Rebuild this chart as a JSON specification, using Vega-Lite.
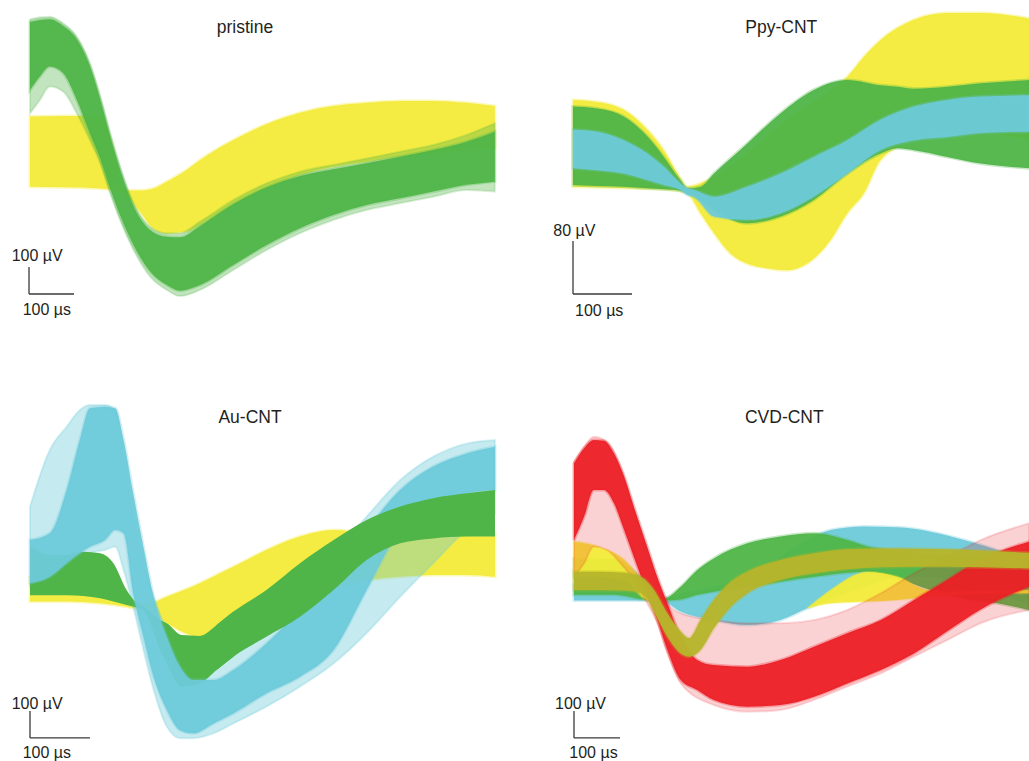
{
"$schema":"https://vega.github.io/schema/vega-lite/v6.json",
"padding":0,"spacing":0,"bounds":"flush","columns":2,
"config":{"view":{"stroke":null},"text":{"font":"Liberation Sans","color":"#231f20"}},
"datasets":{
"A":[
{"c":"y","t":0,"hi":272,"lo":12},{"c":"y","t":81,"hi":274,"lo":10},{"c":"y","t":156,"hi":274,"lo":6},{"c":"y","t":185,"hi":148,"lo":0},{"c":"y","t":207,"hi":0,"lo":-10},{"c":"y","t":244,"hi":-2,"lo":-80},{"c":"y","t":274,"hi":6,"lo":-142},{"c":"y","t":304,"hi":31,"lo":-160},{"c":"y","t":348,"hi":74,"lo":-154},{"c":"y","t":378,"hi":111,"lo":-130},{"c":"y","t":452,"hi":185,"lo":-56},{"c":"y","t":526,"hi":244,"lo":6},{"c":"y","t":600,"hi":286,"lo":56},{"c":"y","t":674,"hi":311,"lo":86},{"c":"y","t":748,"hi":323,"lo":105},{"c":"y","t":822,"hi":330,"lo":123},{"c":"y","t":896,"hi":330,"lo":136},{"c":"y","t":970,"hi":323,"lo":148},{"c":"y","t":1033,"hi":311,"lo":154},
{"c":"go","t":0,"hi":632,"lo":284},{"c":"go","t":22,"hi":640,"lo":333},{"c":"go","t":44,"hi":642,"lo":383},{"c":"go","t":74,"hi":617,"lo":364},{"c":"go","t":104,"hi":568,"lo":284},{"c":"go","t":133,"hi":469,"lo":185},{"c":"go","t":156,"hi":346,"lo":99},{"c":"go","t":178,"hi":210,"lo":-12},{"c":"go","t":200,"hi":86,"lo":-111},{"c":"go","t":230,"hi":-49,"lo":-222},{"c":"go","t":267,"hi":-136,"lo":-321},{"c":"go","t":304,"hi":-160,"lo":-370},{"c":"go","t":333,"hi":-160,"lo":-393},{"c":"go","t":378,"hi":-117,"lo":-370},{"c":"go","t":452,"hi":-37,"lo":-296},{"c":"go","t":526,"hi":25,"lo":-222},{"c":"go","t":600,"hi":68,"lo":-160},{"c":"go","t":674,"hi":93,"lo":-111},{"c":"go","t":748,"hi":117,"lo":-74},{"c":"go","t":822,"hi":142,"lo":-49},{"c":"go","t":896,"hi":167,"lo":-25},{"c":"go","t":970,"hi":204,"lo":0},{"c":"go","t":1033,"hi":247,"lo":-6},
{"c":"gc","t":0,"hi":622,"lo":370},{"c":"gc","t":22,"hi":630,"lo":420},{"c":"gc","t":44,"hi":632,"lo":457},{"c":"gc","t":74,"hi":607,"lo":432},{"c":"gc","t":104,"hi":558,"lo":333},{"c":"gc","t":133,"hi":459,"lo":210},{"c":"gc","t":156,"hi":336,"lo":117},{"c":"gc","t":178,"hi":200,"lo":6},{"c":"gc","t":200,"hi":77,"lo":-93},{"c":"gc","t":230,"hi":-59,"lo":-204},{"c":"gc","t":267,"hi":-148,"lo":-302},{"c":"gc","t":304,"hi":-173,"lo":-352},{"c":"gc","t":333,"hi":-175,"lo":-373},{"c":"gc","t":378,"hi":-133,"lo":-352},{"c":"gc","t":452,"hi":-52,"lo":-278},{"c":"gc","t":526,"hi":10,"lo":-204},{"c":"gc","t":600,"hi":52,"lo":-142},{"c":"gc","t":674,"hi":77,"lo":-93},{"c":"gc","t":748,"hi":99,"lo":-56},{"c":"gc","t":822,"hi":123,"lo":-31},{"c":"gc","t":896,"hi":148,"lo":-6},{"c":"gc","t":970,"hi":179,"lo":19},{"c":"gc","t":1033,"hi":216,"lo":31}
],
"B":[
{"c":"y","t":0,"hi":136,"lo":5},{"c":"y","t":41,"hi":133,"lo":4},{"c":"y","t":86,"hi":121,"lo":3},{"c":"y","t":126,"hi":91,"lo":2},{"c":"y","t":154,"hi":60,"lo":1},{"c":"y","t":177,"hi":25,"lo":-1},{"c":"y","t":194,"hi":5,"lo":-5},{"c":"y","t":216,"hi":10,"lo":-35},{"c":"y","t":239,"hi":20,"lo":-65},{"c":"y","t":267,"hi":38,"lo":-96},{"c":"y","t":295,"hi":55,"lo":-111},{"c":"y","t":329,"hi":81,"lo":-118},{"c":"y","t":363,"hi":106,"lo":-121},{"c":"y","t":397,"hi":126,"lo":-111},{"c":"y","t":437,"hi":151,"lo":-75},{"c":"y","t":465,"hi":171,"lo":-35},{"c":"y","t":493,"hi":201,"lo":-5},{"c":"y","t":521,"hi":226,"lo":45},{"c":"y","t":578,"hi":257,"lo":75},{"c":"y","t":634,"hi":267,"lo":86},{"c":"y","t":691,"hi":267,"lo":86},{"c":"y","t":773,"hi":259,"lo":75},
{"c":"g","t":0,"hi":126,"lo":7.5},{"c":"g","t":41,"hi":123,"lo":6},{"c":"g","t":86,"hi":111,"lo":5},{"c":"g","t":126,"hi":81,"lo":2.5},{"c":"g","t":154,"hi":50,"lo":1},{"c":"g","t":182,"hi":15,"lo":-1},{"c":"g","t":194,"hi":2.5,"lo":-5},{"c":"g","t":216,"hi":5,"lo":-15},{"c":"g","t":239,"hi":25,"lo":-30},{"c":"g","t":295,"hi":70,"lo":-50},{"c":"g","t":352,"hi":116,"lo":-40},{"c":"g","t":408,"hi":151,"lo":-15},{"c":"g","t":465,"hi":166,"lo":25},{"c":"g","t":521,"hi":158,"lo":55},{"c":"g","t":550,"hi":156,"lo":63},{"c":"g","t":578,"hi":153,"lo":60},{"c":"g","t":634,"hi":156,"lo":50},{"c":"g","t":691,"hi":161,"lo":40},{"c":"g","t":773,"hi":166,"lo":33},
{"c":"cy","t":0,"hi":91,"lo":33},{"c":"cy","t":41,"hi":88,"lo":30},{"c":"cy","t":86,"hi":75,"lo":25},{"c":"cy","t":126,"hi":55,"lo":15},{"c":"cy","t":154,"hi":35,"lo":7.5},{"c":"cy","t":182,"hi":10,"lo":0},{"c":"cy","t":194,"hi":2.5,"lo":-7.5},{"c":"cy","t":205,"hi":0,"lo":-10},{"c":"cy","t":239,"hi":-10,"lo":-40},{"c":"cy","t":295,"hi":5,"lo":-45},{"c":"cy","t":352,"hi":25,"lo":-35},{"c":"cy","t":408,"hi":50,"lo":-10},{"c":"cy","t":465,"hi":75,"lo":25},{"c":"cy","t":521,"hi":106,"lo":60},{"c":"cy","t":578,"hi":126,"lo":75},{"c":"cy","t":634,"hi":136,"lo":80},{"c":"cy","t":691,"hi":141,"lo":86},{"c":"cy","t":773,"hi":143,"lo":88}
],
"C":[
{"c":"y","t":0,"hi":49,"lo":-43},{"c":"y","t":61,"hi":74,"lo":-43},{"c":"y","t":117,"hi":49,"lo":-49},{"c":"y","t":161,"hi":-25,"lo":-62},{"c":"y","t":178,"hi":-49,"lo":-68},{"c":"y","t":189,"hi":-56,"lo":-68},{"c":"y","t":228,"hi":-25,"lo":-123},{"c":"y","t":283,"hi":25,"lo":-173},{"c":"y","t":311,"hi":56,"lo":-130},{"c":"y","t":339,"hi":86,"lo":-80},{"c":"y","t":394,"hi":148,"lo":-25},{"c":"y","t":450,"hi":198,"lo":0},{"c":"y","t":506,"hi":222,"lo":12},{"c":"y","t":561,"hi":210,"lo":37},{"c":"y","t":617,"hi":198,"lo":49},{"c":"y","t":672,"hi":198,"lo":56},{"c":"y","t":728,"hi":210,"lo":56},{"c":"y","t":775,"hi":210,"lo":49},
{"c":"g","t":0,"hi":160,"lo":-19},{"c":"g","t":33,"hi":130,"lo":-19},{"c":"g","t":61,"hi":130,"lo":-19},{"c":"g","t":89,"hi":142,"lo":-22},{"c":"g","t":117,"hi":136,"lo":-31},{"c":"g","t":139,"hi":99,"lo":-43},{"c":"g","t":161,"hi":0,"lo":-56},{"c":"g","t":178,"hi":-49,"lo":-65},{"c":"g","t":189,"hi":-62,"lo":-74},{"c":"g","t":217,"hi":-111,"lo":-222},{"c":"g","t":228,"hi":-123,"lo":-272},{"c":"g","t":253,"hi":-167,"lo":-358},{"c":"g","t":283,"hi":-170,"lo":-346},{"c":"g","t":311,"hi":-130,"lo":-296},{"c":"g","t":339,"hi":-80,"lo":-247},{"c":"g","t":394,"hi":0,"lo":-173},{"c":"g","t":450,"hi":99,"lo":-99},{"c":"g","t":506,"hi":185,"lo":0},{"c":"g","t":561,"hi":259,"lo":111},{"c":"g","t":617,"hi":309,"lo":173},{"c":"g","t":672,"hi":340,"lo":191},{"c":"g","t":728,"hi":358,"lo":198},{"c":"g","t":775,"hi":370,"lo":198},
{"c":"co","t":0,"hi":309,"lo":12},{"c":"co","t":33,"hi":519,"lo":31},{"c":"co","t":61,"hi":605,"lo":49},{"c":"co","t":83,"hi":667,"lo":99},{"c":"co","t":100,"hi":685,"lo":136},{"c":"co","t":125,"hi":685,"lo":148},{"c":"co","t":142,"hi":667,"lo":160},{"c":"co","t":156,"hi":494,"lo":74},{"c":"co","t":172,"hi":272,"lo":-62},{"c":"co","t":189,"hi":99,"lo":-222},{"c":"co","t":206,"hi":-25,"lo":-370},{"c":"co","t":228,"hi":-148,"lo":-506},{"c":"co","t":250,"hi":-222,"lo":-549},{"c":"co","t":272,"hi":-247,"lo":-549},{"c":"co","t":306,"hi":-235,"lo":-531},{"c":"co","t":339,"hi":-198,"lo":-494},{"c":"co","t":394,"hi":-99,"lo":-432},{"c":"co","t":450,"hi":12,"lo":-358},{"c":"co","t":506,"hi":136,"lo":-272},{"c":"co","t":561,"hi":272,"lo":-160},{"c":"co","t":617,"hi":407,"lo":-25},{"c":"co","t":672,"hi":494,"lo":99},{"c":"co","t":728,"hi":543,"lo":222},{"c":"co","t":775,"hi":556,"lo":284},
{"c":"cc","t":0,"hi":185,"lo":25},{"c":"cc","t":33,"hi":210,"lo":49},{"c":"cc","t":61,"hi":370,"lo":99},{"c":"cc","t":83,"hi":556,"lo":136},{"c":"cc","t":100,"hi":673,"lo":160},{"c":"cc","t":125,"hi":679,"lo":185},{"c":"cc","t":142,"hi":673,"lo":222},{"c":"cc","t":156,"hi":556,"lo":210},{"c":"cc","t":172,"hi":358,"lo":-12},{"c":"cc","t":189,"hi":160,"lo":-173},{"c":"cc","t":206,"hi":-25,"lo":-321},{"c":"cc","t":228,"hi":-173,"lo":-444},{"c":"cc","t":250,"hi":-284,"lo":-519},{"c":"cc","t":272,"hi":-333,"lo":-531},{"c":"cc","t":306,"hi":-333,"lo":-494},{"c":"cc","t":339,"hi":-296,"lo":-457},{"c":"cc","t":394,"hi":-198,"lo":-383},{"c":"cc","t":450,"hi":-74,"lo":-321},{"c":"cc","t":506,"hi":49,"lo":-222},{"c":"cc","t":561,"hi":222,"lo":0},{"c":"cc","t":617,"hi":370,"lo":222},{"c":"cc","t":672,"hi":457,"lo":309},{"c":"cc","t":728,"hi":506,"lo":358},{"c":"cc","t":775,"hi":531,"lo":370}
],
"D":[
{"c":"cy","t":0,"hi":56,"lo":-2},{"c":"cy","t":87,"hi":52,"lo":-2},{"c":"cy","t":159,"hi":37,"lo":-2},{"c":"cy","t":196,"hi":6,"lo":-7},{"c":"cy","t":232,"hi":25,"lo":-43},{"c":"cy","t":304,"hi":49,"lo":-74},{"c":"cy","t":377,"hi":86,"lo":-93},{"c":"cy","t":449,"hi":160,"lo":-74},{"c":"cy","t":507,"hi":222,"lo":-31},{"c":"cy","t":558,"hi":259,"lo":6},{"c":"cy","t":630,"hi":272,"lo":49},{"c":"cy","t":703,"hi":269,"lo":86},{"c":"cy","t":775,"hi":253,"lo":86},{"c":"cy","t":848,"hi":222,"lo":62},{"c":"cy","t":920,"hi":185,"lo":25},{"c":"cy","t":989,"hi":136,"lo":-12},
{"c":"g","t":0,"hi":154,"lo":19},{"c":"g","t":87,"hi":151,"lo":19},{"c":"g","t":159,"hi":62,"lo":0},{"c":"g","t":196,"hi":6,"lo":-2},{"c":"g","t":232,"hi":49,"lo":2},{"c":"g","t":268,"hi":111,"lo":19},{"c":"g","t":304,"hi":154,"lo":31},{"c":"g","t":377,"hi":210,"lo":49},{"c":"g","t":449,"hi":235,"lo":68},{"c":"g","t":522,"hi":247,"lo":86},{"c":"g","t":594,"hi":222,"lo":101},{"c":"g","t":638,"hi":198,"lo":105},{"c":"g","t":703,"hi":179,"lo":80},{"c":"g","t":775,"hi":167,"lo":37},{"c":"g","t":848,"hi":160,"lo":6},{"c":"g","t":920,"hi":154,"lo":-12},{"c":"g","t":989,"hi":148,"lo":-37},
{"c":"y","t":0,"hi":216,"lo":86},{"c":"y","t":51,"hi":198,"lo":86},{"c":"y","t":109,"hi":148,"lo":74},{"c":"y","t":159,"hi":49,"lo":0},{"c":"y","t":196,"hi":2,"lo":-12},
{"c":"yt","t":507,"hi":-31,"lo":-31},{"c":"yt","t":558,"hi":37,"lo":-12},{"c":"yt","t":638,"hi":104,"lo":-6},{"c":"yt","t":703,"hi":86,"lo":0},{"c":"yt","t":768,"hi":37,"lo":12},{"c":"yt","t":812,"hi":31,"lo":19},{"c":"yt","t":989,"hi":37,"lo":25},
{"c":"ro","t":0,"hi":512,"lo":86},{"c":"ro","t":22,"hi":568,"lo":136},{"c":"ro","t":43,"hi":605,"lo":198},{"c":"ro","t":72,"hi":586,"lo":185},{"c":"ro","t":101,"hi":494,"lo":136},{"c":"ro","t":130,"hi":333,"lo":74},{"c":"ro","t":159,"hi":173,"lo":-12},{"c":"ro","t":181,"hi":62,"lo":-86},{"c":"ro","t":203,"hi":-12,"lo":-198},{"c":"ro","t":232,"hi":-49,"lo":-309},{"c":"ro","t":304,"hi":-74,"lo":-389},{"c":"ro","t":377,"hi":-86,"lo":-414},{"c":"ro","t":449,"hi":-86,"lo":-407},{"c":"ro","t":522,"hi":-74,"lo":-370},{"c":"ro","t":594,"hi":-37,"lo":-321},{"c":"ro","t":667,"hi":25,"lo":-272},{"c":"ro","t":739,"hi":99,"lo":-210},{"c":"ro","t":812,"hi":160,"lo":-148},{"c":"ro","t":884,"hi":222,"lo":-86},{"c":"ro","t":989,"hi":284,"lo":-37},
{"c":"rc","t":0,"hi":506,"lo":222},{"c":"rc","t":22,"hi":562,"lo":309},{"c":"rc","t":43,"hi":593,"lo":407},{"c":"rc","t":65,"hi":590,"lo":407},{"c":"rc","t":87,"hi":543,"lo":358},{"c":"rc","t":109,"hi":457,"lo":259},{"c":"rc","t":130,"hi":346,"lo":160},{"c":"rc","t":159,"hi":198,"lo":25},{"c":"rc","t":181,"hi":86,"lo":-74},{"c":"rc","t":203,"hi":-12,"lo":-185},{"c":"rc","t":232,"hi":-136,"lo":-296},{"c":"rc","t":268,"hi":-222,"lo":-333},{"c":"rc","t":304,"hi":-241,"lo":-370},{"c":"rc","t":377,"hi":-247,"lo":-395},{"c":"rc","t":449,"hi":-222,"lo":-389},{"c":"rc","t":522,"hi":-173,"lo":-358},{"c":"rc","t":594,"hi":-123,"lo":-309},{"c":"rc","t":667,"hi":-74,"lo":-259},{"c":"rc","t":739,"hi":0,"lo":-198},{"c":"rc","t":812,"hi":75,"lo":-115},{"c":"rc","t":884,"hi":150,"lo":-35},{"c":"rc","t":989,"hi":216,"lo":49},
{"c":"o","t":0,"hi":105,"lo":37},{"c":"o","t":51,"hi":105,"lo":37},{"c":"o","t":109,"hi":101,"lo":35},{"c":"o","t":145,"hi":86,"lo":25},{"c":"o","t":159,"hi":68,"lo":6},{"c":"o","t":174,"hi":37,"lo":-43},{"c":"o","t":203,"hi":-49,"lo":-136},{"c":"o","t":232,"hi":-117,"lo":-198},{"c":"o","t":250,"hi":-142,"lo":-210},{"c":"o","t":275,"hi":-74,"lo":-185},{"c":"o","t":304,"hi":0,"lo":-105},{"c":"o","t":341,"hi":68,"lo":-25},{"c":"o","t":377,"hi":105,"lo":25},{"c":"o","t":449,"hi":148,"lo":74},{"c":"o","t":522,"hi":173,"lo":99},{"c":"o","t":594,"hi":188,"lo":114},{"c":"o","t":667,"hi":191,"lo":121},{"c":"o","t":739,"hi":190,"lo":123},{"c":"o","t":812,"hi":188,"lo":123},{"c":"o","t":884,"hi":183,"lo":121},{"c":"o","t":989,"hi":175,"lo":117}
]
},
"concat":[
{"width":514,"height":380,
"encoding":{"x":{"field":"t","type":"quantitative","scale":{"domain":[-66.67,1075.56],"nice":false,"zero":false},"axis":null},
"y":{"field":"hi","type":"quantitative","scale":{"domain":[-703.7,703.7],"nice":false,"zero":false},"axis":null}},
"layer":[
{"data":{"name":"A"},"transform":[{"filter":"datum.c=='y'"}],"mark":{"type":"area","interpolate":"monotone","fill":"#F3EB38","fillOpacity":0.95,"stroke":"#F3EB38","strokeWidth":3,"strokeOpacity":0.35,"clip":true},"encoding":{"y2":{"field":"lo"}}},
{"data":{"name":"A"},"transform":[{"filter":"datum.c=='go'"}],"mark":{"type":"area","interpolate":"monotone","fill":"#4FB548","fillOpacity":0.35,"stroke":"#4FB548","strokeWidth":2,"strokeOpacity":0.2,"clip":true},"encoding":{"y2":{"field":"lo"}}},
{"data":{"name":"A"},"transform":[{"filter":"datum.c=='gc'"}],"mark":{"type":"area","interpolate":"monotone","fill":"#4FB548","fillOpacity":0.95,"stroke":"#4FB548","strokeWidth":3,"strokeOpacity":0.3,"clip":true},"encoding":{"y2":{"field":"lo"}}},
{"data":{"values":[{"t":-2.2,"t2":-2.2,"hi":-285.2,"lo":-385.2},{"t":-2.2,"t2":97.8,"hi":-385.2,"lo":-385.2}]},"mark":{"type":"rule","color":"#3a3a3a","strokeWidth":1.3},"encoding":{"x2":{"field":"t2"},"y2":{"field":"lo"}}},
{"data":{"values":[{"t":-40.7,"hi":-263,"label":"100 µV"},{"t":-16.2,"hi":-463,"label":"100 µs"}]},"mark":{"type":"text","align":"left","baseline":"alphabetic","fontSize":16},"encoding":{"text":{"field":"label"}}},
{"data":{"values":[{"t":477.8,"hi":581.5,"label":"pristine"}]},"mark":{"type":"text","align":"center","baseline":"alphabetic","fontSize":17.5},"encoding":{"text":{"field":"label"}}}
]},
{"width":515,"height":380,
"encoding":{"x":{"field":"t","type":"quantitative","scale":{"domain":[-100,772.88],"nice":false,"zero":false},"axis":null},
"y":{"field":"hi","type":"quantitative","scale":{"domain":[-286.79,286.79],"nice":false,"zero":false},"axis":null}},
"layer":[
{"data":{"name":"B"},"transform":[{"filter":"datum.c=='y'"}],"mark":{"type":"area","interpolate":"monotone","fill":"#F3EB38","fillOpacity":0.95,"stroke":"#F3EB38","strokeWidth":3,"strokeOpacity":0.35,"clip":true},"encoding":{"y2":{"field":"lo"}}},
{"data":{"name":"B"},"transform":[{"filter":"datum.c=='g'"}],"mark":{"type":"area","interpolate":"monotone","fill":"#4FB548","fillOpacity":0.95,"stroke":"#4FB548","strokeWidth":3,"strokeOpacity":0.3,"clip":true},"encoding":{"y2":{"field":"lo"}}},
{"data":{"name":"B"},"transform":[{"filter":"datum.c=='cy'"}],"mark":{"type":"area","interpolate":"monotone","fill":"#6DCAD9","fillOpacity":0.95,"stroke":"#6DCAD9","strokeWidth":3,"strokeOpacity":0.3,"clip":true},"encoding":{"y2":{"field":"lo"}}},
{"data":{"values":[{"t":0,"t2":0,"hi":-77,"lo":-157},{"t":0,"t2":100,"hi":-157,"lo":-157}]},"mark":{"type":"rule","color":"#3a3a3a","strokeWidth":1.3},"encoding":{"x2":{"field":"t2"},"y2":{"field":"lo"}}},
{"data":{"values":[{"t":-33.4,"hi":-69.4,"label":"80 µV"},{"t":3.4,"hi":-189.7,"label":"100 µs"}]},"mark":{"type":"text","align":"left","baseline":"alphabetic","fontSize":16},"encoding":{"text":{"field":"label"}}},
{"data":{"values":[{"t":353,"hi":236.5,"label":"Ppy-CNT"}]},"mark":{"type":"text","align":"center","baseline":"alphabetic","fontSize":17.5},"encoding":{"text":{"field":"label"}}}
]},
{"width":514,"height":381,
"encoding":{"x":{"field":"t","type":"quantitative","scale":{"domain":[-50,806.67],"nice":false,"zero":false},"axis":null},
"y":{"field":"hi","type":"quantitative","scale":{"domain":[-633.33,777.78],"nice":false,"zero":false},"axis":null}},
"layer":[
{"data":{"name":"C"},"transform":[{"filter":"datum.c=='y'"}],"mark":{"type":"area","interpolate":"monotone","fill":"#F3EB38","fillOpacity":0.95,"stroke":"#F3EB38","strokeWidth":3,"strokeOpacity":0.35,"clip":true},"encoding":{"y2":{"field":"lo"}}},
{"data":{"name":"C"},"transform":[{"filter":"datum.c=='co'"}],"mark":{"type":"area","interpolate":"monotone","fill":"#6DCAD9","fillOpacity":0.4,"stroke":"#6DCAD9","strokeWidth":2,"strokeOpacity":0.25,"clip":true},"encoding":{"y2":{"field":"lo"}}},
{"data":{"name":"C"},"transform":[{"filter":"datum.c=='g' && datum.t<=339"}],"mark":{"type":"area","interpolate":"monotone","fill":"#4FB548","fillOpacity":1,"clip":true},"encoding":{"y2":{"field":"lo"}}},
{"data":{"name":"C"},"transform":[{"filter":"datum.c=='cc'"}],"mark":{"type":"area","interpolate":"monotone","fill":"#6DCAD9","fillOpacity":0.95,"stroke":"#6DCAD9","strokeWidth":3,"strokeOpacity":0.3,"clip":true},"encoding":{"y2":{"field":"lo"}}},
{"data":{"name":"C"},"transform":[{"filter":"datum.c=='g' && datum.t>=311"}],"mark":{"type":"area","interpolate":"monotone","fill":"#4FB548","fillOpacity":1,"clip":true},"encoding":{"y2":{"field":"lo"}}},
{"data":{"values":[{"t":0,"t2":0,"hi":-448,"lo":-548},{"t":0,"t2":100,"hi":-548,"lo":-548}]},"mark":{"type":"rule","color":"#3a3a3a","strokeWidth":1.3},"encoding":{"x2":{"field":"t2"},"y2":{"field":"lo"}}},
{"data":{"values":[{"t":-30.5,"hi":-442,"label":"100 µV"},{"t":-12.2,"hi":-622,"label":"100 µs"}]},"mark":{"type":"text","align":"left","baseline":"alphabetic","fontSize":16},"encoding":{"text":{"field":"label"}}},
{"data":{"values":[{"t":366.7,"hi":617.4,"label":"Au-CNT"}]},"mark":{"type":"text","align":"center","baseline":"alphabetic","fontSize":17.5},"encoding":{"text":{"field":"label"}}}
]},
{"width":515,"height":381,
"encoding":{"x":{"field":"t","type":"quantitative","scale":{"domain":[-130.43,989.13],"nice":false,"zero":false},"axis":null},
"y":{"field":"hi","type":"quantitative","scale":{"domain":[-596.3,814.81],"nice":false,"zero":false},"axis":null}},
"layer":[
{"data":{"name":"D"},"transform":[{"filter":"datum.c=='cy'"}],"mark":{"type":"area","interpolate":"monotone","fill":"#6DCAD9","fillOpacity":0.95,"stroke":"#6DCAD9","strokeWidth":3,"strokeOpacity":0.3,"clip":true},"encoding":{"y2":{"field":"lo"}}},
{"data":{"name":"D"},"transform":[{"filter":"datum.c=='g'"}],"mark":{"type":"area","interpolate":"monotone","fill":"#4FB548","fillOpacity":0.95,"stroke":"#4FB548","strokeWidth":3,"strokeOpacity":0.3,"clip":true},"encoding":{"y2":{"field":"lo"}}},
{"data":{"name":"D"},"transform":[{"filter":"datum.c=='y'"}],"mark":{"type":"area","interpolate":"monotone","fill":"#F3EB38","fillOpacity":0.95,"stroke":"#F3EB38","strokeWidth":3,"strokeOpacity":0.35,"clip":true},"encoding":{"y2":{"field":"lo"}}},
{"data":{"name":"D"},"transform":[{"filter":"datum.c=='yt'"}],"mark":{"type":"area","interpolate":"monotone","fill":"#F3EB38","fillOpacity":0.95,"stroke":"#F3EB38","strokeWidth":2,"strokeOpacity":0.3,"clip":true},"encoding":{"y2":{"field":"lo"}}},
{"data":{"name":"D"},"transform":[{"filter":"datum.c=='ro'"}],"mark":{"type":"area","interpolate":"monotone","fill":"#EC1F26","fillOpacity":0.2,"stroke":"#EC1F26","strokeWidth":2,"strokeOpacity":0.15,"clip":true},"encoding":{"y2":{"field":"lo"}}},
{"data":{"name":"D"},"transform":[{"filter":"datum.c=='rc'"}],"mark":{"type":"area","interpolate":"monotone","fill":"#EC1F26","fillOpacity":0.95,"stroke":"#EC1F26","strokeWidth":3,"strokeOpacity":0.3,"clip":true},"encoding":{"y2":{"field":"lo"}}},
{"data":{"name":"D"},"transform":[{"filter":"datum.c=='o'"}],"mark":{"type":"area","interpolate":"monotone","fill":"#B7B52B","fillOpacity":0.97,"stroke":"#B7B52B","strokeWidth":3,"strokeOpacity":0.3,"clip":true},"encoding":{"y2":{"field":"lo"}}},
{"data":{"values":[{"t":0,"t2":0,"hi":-411,"lo":-511},{"t":0,"t2":100,"hi":-511,"lo":-511}]},"mark":{"type":"rule","color":"#3a3a3a","strokeWidth":1.3},"encoding":{"x2":{"field":"t2"},"y2":{"field":"lo"}}},
{"data":{"values":[{"t":-41.3,"hi":-404.8,"label":"100 µV"},{"t":-10.2,"hi":-585,"label":"100 µs"}]},"mark":{"type":"text","align":"left","baseline":"alphabetic","fontSize":16},"encoding":{"text":{"field":"label"}}},
{"data":{"values":[{"t":457.2,"hi":654.4,"label":"CVD-CNT"}]},"mark":{"type":"text","align":"center","baseline":"alphabetic","fontSize":17.5},"encoding":{"text":{"field":"label"}}}
]}
]
}
